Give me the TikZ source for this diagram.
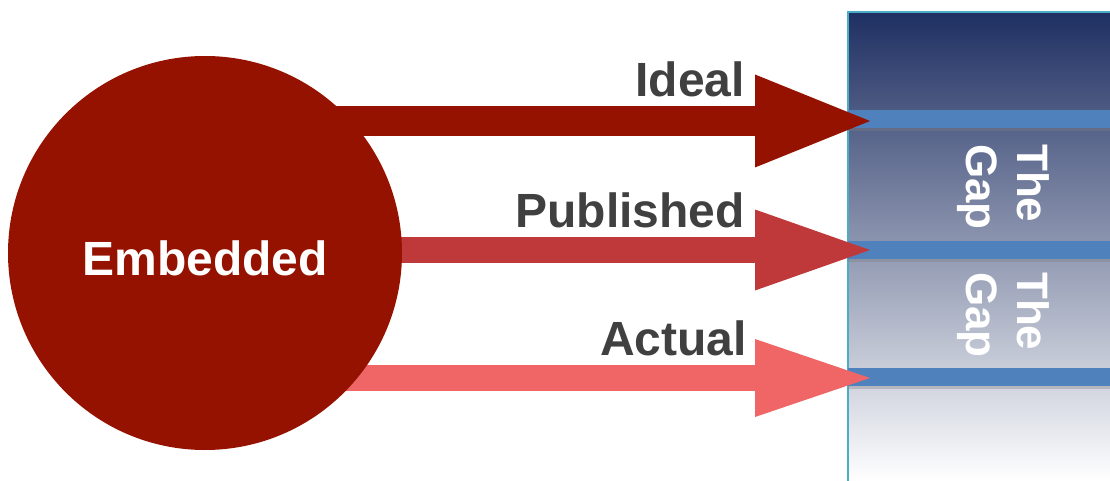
\documentclass[tikz,border=0pt]{standalone}
\usepackage{fontspec}
\setmainfont{Liberation Sans}
\usetikzlibrary{arrows.meta,shadows}
\definecolor{embred}{RGB}{149,18,0}
\definecolor{pubred}{RGB}{192,57,58}
\definecolor{actred}{RGB}{240,102,102}
\definecolor{labgray}{RGB}{64,64,64}
\definecolor{barblue}{RGB}{79,129,189}
\definecolor{navy}{RGB}{30,47,98}
\definecolor{midnavy}{RGB}{134,143,174}
\definecolor{rimcyan}{RGB}{75,172,198}
\tikzset{
  bigfont/.style={font=\fontsize{48}{56}\selectfont\bfseries},
  lab/.style={bigfont, text=labgray, inner sep=0pt, anchor=base east},
  gaptext/.style={font=\fontsize{44}{51}\selectfont\bfseries, text=white,
    align=left, rotate=-90, inner sep=0pt},
  gapbar/.style={fill=barblue, drop shadow={shadow xshift=0pt,
    shadow yshift=-3pt, opacity=.35}},
}

\begin{document}
\begin{tikzpicture}[x=1pt,y=-1pt]
  \useasboundingbox (0,0) rectangle (1110,481);
  % panel on the right
  \fill [top color=navy, middle color=midnavy, bottom color=white]
  (848,12) rectangle (1110,481);
  \draw [rimcyan, line width=1.2pt] (848,481) -- (848,12) -- (1110,12);
  \foreach \y in {119,250,377}
    \fill [gapbar] (848,\y-9) rectangle (1110,\y+9);
  \node [gaptext] (gapA) at (1003,187) {The\\Gap};
  \node [gaptext] (gapB) at (1003,315) {The\\Gap};
  % arrows
  \coordinate (embc) at (205,253);
  \coordinate (tipI) at (870,121);
  \coordinate (tipP) at (870,250);
  \coordinate (tipA) at (870,378);
  \draw [embred, line width=30pt,
  -{Triangle[length=115pt,width=93pt,line width=0pt]}]
  (embc |- tipI) -- (tipI);
  \draw [pubred, line width=26pt,
  -{Triangle[length=115pt,width=81pt,line width=0pt]}]
  (embc |- tipP) -- (tipP);
  \draw [actred, line width=26pt,
  -{Triangle[length=115pt,width=78pt,line width=0pt]}]
  (embc |- tipA) -- (tipA);
  \node [lab] (ideal) at (745,97) {Ideal};
  \node [lab] (published) at (745,227) {Published};
  \node [lab] (actual) at (747,355) {Actual};
  \node [circle, fill=embred, minimum size=394pt, inner sep=0pt,
  text=white, bigfont, text height=44pt, text depth=0pt]
  (emb) at (embc) {Embedded};
\end{tikzpicture}
\end{document}
